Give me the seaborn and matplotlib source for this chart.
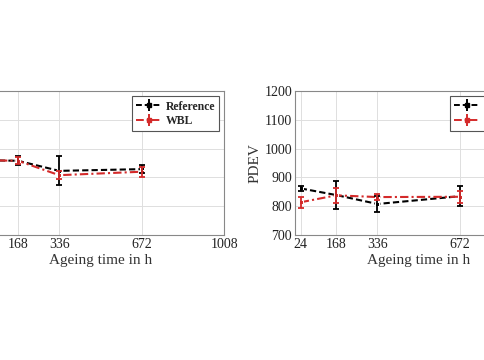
import numpy as np
import pandas as pd
import matplotlib
matplotlib.use("Agg")
import matplotlib.pyplot as plt
import seaborn as sns

# ageing times (h)
hours = [24, 168, 336, 672]
xticks_left = [168, 336, 672, 1008]
xticks_right = [24, 168, 336, 672, 1008]

# left panel (y axis cut off in the reference)
left_ref = [960, 958, 923, 929]
left_ref_err = [12, 15, 50, 13]
left_wbl = [960, 958, 908, 920]
left_wbl_err = [12, 12, 15, 17]

# right panel: PDEV
pdev_ref = [862, 839, 808, 835]
pdev_ref_err = [10, 48, 28, 35]
pdev_wbl = [814, 838, 832, 833]
pdev_wbl_err = [19, 27, 10, 20]

RED = "#d42a2a"

sns.set_style("whitegrid")
plt.rcParams['font.family'] = ['Liberation Serif', 'DejaVu Serif']

fig = plt.figure(figsize=(4.85, 3.6), dpi=100)
ax1 = fig.add_axes([-0.0482, 0.347, 0.511, 0.4])
ax2 = fig.add_axes([0.608, 0.347, 0.511, 0.4])


def panel(ax, ref, ref_err, wbl, wbl_err, xticks):
    df = pd.DataFrame({"h": hours * 2,
                       "v": ref + wbl,
                       "s": ["Reference"] * 4 + ["WBL"] * 4})
    sns.lineplot(data=df, x="h", y="v", hue="s", style="s",
                 palette={"Reference": "black", "WBL": RED},
                 dashes={"Reference": (3, 1.5), "WBL": (4, 1.5, 1, 1.5)},
                 markers={"Reference": "s", "WBL": "s"}, markersize=3.5,
                 linewidth=1.5, ax=ax, legend=False)
    ax.errorbar(hours, ref, yerr=ref_err, fmt="none", ecolor="black",
                elinewidth=1.3, capsize=2.5, capthick=1.3)
    ax.errorbar(hours, wbl, yerr=wbl_err, fmt="none", ecolor=RED,
                elinewidth=1.3, capsize=2.5, capthick=1.3)
    # legend handles
    hr = ax.errorbar([], [], yerr=[], color="black", ls=(0, (3, 1.5)),
                     marker="s", ms=3.5, capsize=2.5, lw=1.4)
    hw = ax.errorbar([], [], yerr=[], color=RED, ls=(0, (4, 1.5, 1, 1.5)),
                     marker="s", ms=3.5, capsize=2.5, lw=1.4)
    leg = ax.legend([hr, hw], ["Reference", "WBL"], loc="upper right",
                    prop={"weight": "bold", "size": 8.5}, fancybox=False,
                    framealpha=1, edgecolor="#555555", handlelength=2.2,
                    handletextpad=0.3, borderpad=0.35, labelspacing=0.2,
                    borderaxespad=0.45)
    leg.get_frame().set_linewidth(0.8)
    ax.set_xlim(0, 1008)
    ax.set_ylim(700, 1200)
    ax.set_xticks(xticks)
    ax.set_yticks(range(700, 1201, 100))
    ax.grid(True, color="#dedede", lw=0.7)
    for sp in ax.spines.values():
        sp.set_color("#888888")
        sp.set_linewidth(0.8)
    ax.tick_params(labelsize=10, colors="#222222", length=0, pad=2)
    ax.set_xlabel("Ageing time in h", fontsize=11, color="#333333", labelpad=2)


panel(ax1, left_ref, left_ref_err, left_wbl, left_wbl_err, xticks_left)
ax1.set_ylabel("")
ax1.tick_params(axis="y", labelleft=False)
panel(ax2, pdev_ref, pdev_ref_err, pdev_wbl, pdev_wbl_err, xticks_right)
ax2.set_ylabel("PDEV", fontsize=11, color="#333333", labelpad=2)

fig.savefig("out.png", dpi=100, facecolor="white")
